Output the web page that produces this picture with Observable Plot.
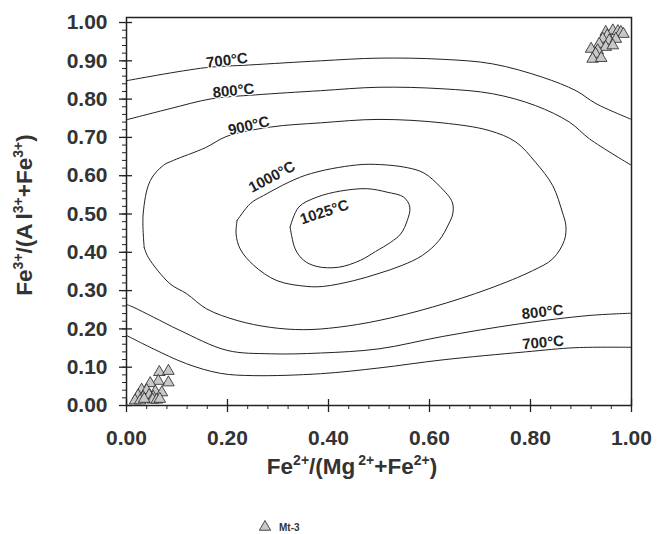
<!DOCTYPE html>
<html>
<head>
<meta charset="utf-8">
<script src="https://cdn.jsdelivr.net/npm/d3@7"></script>
<script src="https://cdn.jsdelivr.net/npm/@observablehq/plot@0.6"></script>
<style>
  html, body { margin: 0; padding: 0; background: #fff; }
  #chart svg { display: block; }
</style>
</head>
<body>
<div id="chart"></div>
<script>
// ---- Data ----
const xMajor = [0, 0.2, 0.4, 0.6, 0.8, 1.0];
const yMajor = [0, 0.1, 0.2, 0.3, 0.4, 0.5, 0.6, 0.7, 0.8, 0.9, 1.0];
const xMinor = d3.range(0, 1.0001, 0.04);
const yMinor = d3.range(0, 1.0001, 0.02);

// contour isotherms [x, y]
const c700Top = [[0,0.848],[0.156,0.882],[0.242,0.889],[0.384,0.900],[0.50,0.907],[0.625,0.904],[0.725,0.892],[0.824,0.857],[0.89,0.822],[0.93,0.788],[1.0,0.747]];
const c800Top = [[0,0.746],[0.086,0.775],[0.169,0.801],[0.255,0.811],[0.384,0.822],[0.50,0.831],[0.625,0.827],[0.725,0.814],[0.81,0.783],[0.877,0.740],[0.917,0.696],[1.0,0.627]];
const c900 = [[0.035,0.413],[0.033,0.50],[0.047,0.587],[0.073,0.627],[0.093,0.640],[0.156,0.673],[0.199,0.703],[0.285,0.727],[0.384,0.738],[0.50,0.747],[0.625,0.738],[0.718,0.718],[0.771,0.688],[0.810,0.635],[0.844,0.574],[0.863,0.505],[0.870,0.470],[0.867,0.431],[0.844,0.383],[0.804,0.352],[0.718,0.305],[0.606,0.257],[0.50,0.222],[0.417,0.204],[0.351,0.198],[0.285,0.204],[0.219,0.222],[0.159,0.252],[0.119,0.292],[0.086,0.318],[0.043,0.387],[0.035,0.413]];
const c1000 = [[0.219,0.483],[0.245,0.527],[0.271,0.548],[0.354,0.601],[0.455,0.628],[0.503,0.629],[0.556,0.621],[0.589,0.607],[0.622,0.570],[0.645,0.531],[0.646,0.500],[0.638,0.474],[0.619,0.431],[0.586,0.392],[0.546,0.366],[0.50,0.345],[0.450,0.326],[0.390,0.311],[0.357,0.311],[0.298,0.326],[0.252,0.366],[0.225,0.409],[0.217,0.448],[0.219,0.483]];
const c1025 = [[0.324,0.466],[0.341,0.518],[0.377,0.544],[0.424,0.560],[0.477,0.566],[0.516,0.557],[0.549,0.544],[0.561,0.518],[0.556,0.483],[0.543,0.448],[0.523,0.426],[0.493,0.402],[0.463,0.379],[0.420,0.361],[0.377,0.363],[0.351,0.379],[0.334,0.409],[0.324,0.466]];
const c800Bot = [[0,0.264],[0.013,0.257],[0.053,0.231],[0.106,0.196],[0.199,0.144],[0.285,0.135],[0.384,0.137],[0.50,0.148],[0.625,0.180],[0.777,0.213],[0.916,0.235],[1.0,0.241]];
const c700Bot = [[0,0.183],[0.053,0.148],[0.119,0.109],[0.186,0.084],[0.252,0.078],[0.384,0.083],[0.50,0.098],[0.625,0.119],[0.79,0.140],[0.89,0.151],[1.0,0.152]];

// contour labels
const labelText = ["700°C","800°C","900°C","1000°C","1025°C","800°C","700°C"];
const labelX    = [0.199, 0.212, 0.242, 0.288, 0.392, 0.824, 0.825];
const labelY    = [0.901, 0.822, 0.730, 0.597, 0.505, 0.244, 0.164];
const labelRot  = [-7, -6, -13, -28, -18, -6, -5];

// Mt-3 samples
const mtX = [0.065,0.083,0.083,0.063,0.047,0.030,0.040,0.057,0.070,0.023,0.033,0.045,0.053,0.017,0.027,0.052,0.060,0.066,0.035,
             0.949,0.963,0.973,0.979,0.984,0.952,0.943,0.956,0.969,0.936,0.949,0.963,0.920,0.933,0.929,0.923,0.940];
const mtY = [0.087,0.090,0.060,0.064,0.058,0.041,0.040,0.036,0.034,0.026,0.022,0.027,0.022,0.013,0.013,0.015,0.015,0.017,0.017,
             0.975,0.979,0.977,0.975,0.970,0.966,0.957,0.953,0.957,0.944,0.936,0.940,0.931,0.927,0.918,0.905,0.907];

// ---- Build tables ----
const contours = [
  ["700top", c700Top], ["800top", c800Top], ["900", c900], ["1000", c1000],
  ["1025", c1025], ["800bot", c800Bot], ["700bot", c700Bot]
].flatMap(([id, pts]) => pts.map(([x, y]) => ({id, x, y})));
const labels = labelText.map((t, i) => ({t, x: labelX[i], y: labelY[i], r: labelRot[i]}));
const samples = mtX.map((x, i) => ({x, y: mtY[i]}));

const ink = "#222";
const textInk = "#333";
const FONT = "'Liberation Sans', Arial, sans-serif";

const chart = Plot.plot({
  width: 657,
  height: 534,
  marginLeft: 126,
  marginRight: 26,
  marginTop: 17,
  marginBottom: 129,
  style: {fontFamily: FONT, background: "#fff", overflow: "visible"},
  x: {domain: [0, 1], label: null},
  y: {domain: [0, 1.0131], label: null},
  marks: [
    Plot.line(contours, {x: "x", y: "y", z: "id", stroke: ink, strokeWidth: 1, curve: "catmull-rom"}),
    Plot.text(labels, {x: "x", y: "y", text: "t", rotate: "r", fontSize: 15, fontWeight: "bold", fill: ink,
                       stroke: "#fff", strokeWidth: 2.5}),
    Plot.dot(samples, {x: "x", y: "y", symbol: "triangle", r: 4.3, fill: "#c8c8c8", stroke: ink, strokeWidth: 0.8}),
    Plot.frame({stroke: ink, strokeWidth: 1.5}),
    // minor ticks (outside)
    Plot.ruleX(xMinor, {x: d => d, y1: 0, y2: 0, insetBottom: -4, stroke: ink, strokeWidth: 1}),
    Plot.ruleY(yMinor, {y: d => d, x1: 0, x2: 0, insetLeft: -4, stroke: ink, strokeWidth: 1}),
    // major ticks with labels
    Plot.axisX(xMajor, {tickSize: 7, tickPadding: 18, tickFormat: d3.format(".2f"), label: null,
                        fontSize: 21, fontWeight: "bold", fill: textInk, stroke: ink, strokeWidth: 1.3}),
    Plot.axisY(yMajor, {tickSize: 7, tickPadding: 12, tickFormat: d3.format(".2f"), label: null,
                        fontSize: 21, fontWeight: "bold", fill: textInk, stroke: ink, strokeWidth: 1.3}),
    // major ticks (inside part)
    Plot.ruleX(xMajor, {x: d => d, y1: 0, y2: 0, insetBottom: 6, stroke: ink, strokeWidth: 1.3}),
    Plot.ruleY(yMajor, {y: d => d, x1: 0, x2: 0, insetRight: -6, stroke: ink, strokeWidth: 1.3})
  ]
});

document.getElementById("chart").appendChild(chart);
const svg = d3.select(chart);

// ---- Axis titles (with superscripts) and legend ----
function addTitle(parts, transform) {
  const t = svg.append("text")
    .attr("transform", transform)
    .attr("text-anchor", "middle")
    .attr("font-family", FONT)
    .attr("font-weight", "bold")
    .attr("font-size", 22.5)
    .attr("fill", textInk);
  let raised = false;
  parts.forEach(([s, sup, dx]) => {
    const ts = t.append("tspan").text(s);
    if (sup) { ts.attr("font-size", 14).attr("dy", raised ? 0 : -9); raised = true; }
    else { if (raised) ts.attr("dy", 9); raised = false; }
    if (dx) ts.attr("dx", dx);
  });
  return t;
}
addTitle([["Fe"],["2+",1],["/(Mg"],["2+",1,3],["+Fe"],["2+",1],[")"]], "translate(352,474)");
addTitle([["Fe"],["3+",1],["/(A"],["l",0,4],["3+",1],["+Fe"],["3+",1],[")"]], "translate(32,215) rotate(-90)");

svg.append("path")
  .attr("d", d3.symbol(d3.symbolTriangle, 55)())
  .attr("transform", "translate(265,527)")
  .attr("fill", "#c8c8c8").attr("stroke", ink).attr("stroke-width", 0.8);
svg.append("text")
  .attr("x", 279).attr("y", 531)
  .attr("text-anchor", "start")
  .attr("font-family", FONT)
  .attr("font-weight", "bold").attr("font-size", 10).attr("fill", textInk)
  .text("Mt-3");
</script>
</body>
</html>
